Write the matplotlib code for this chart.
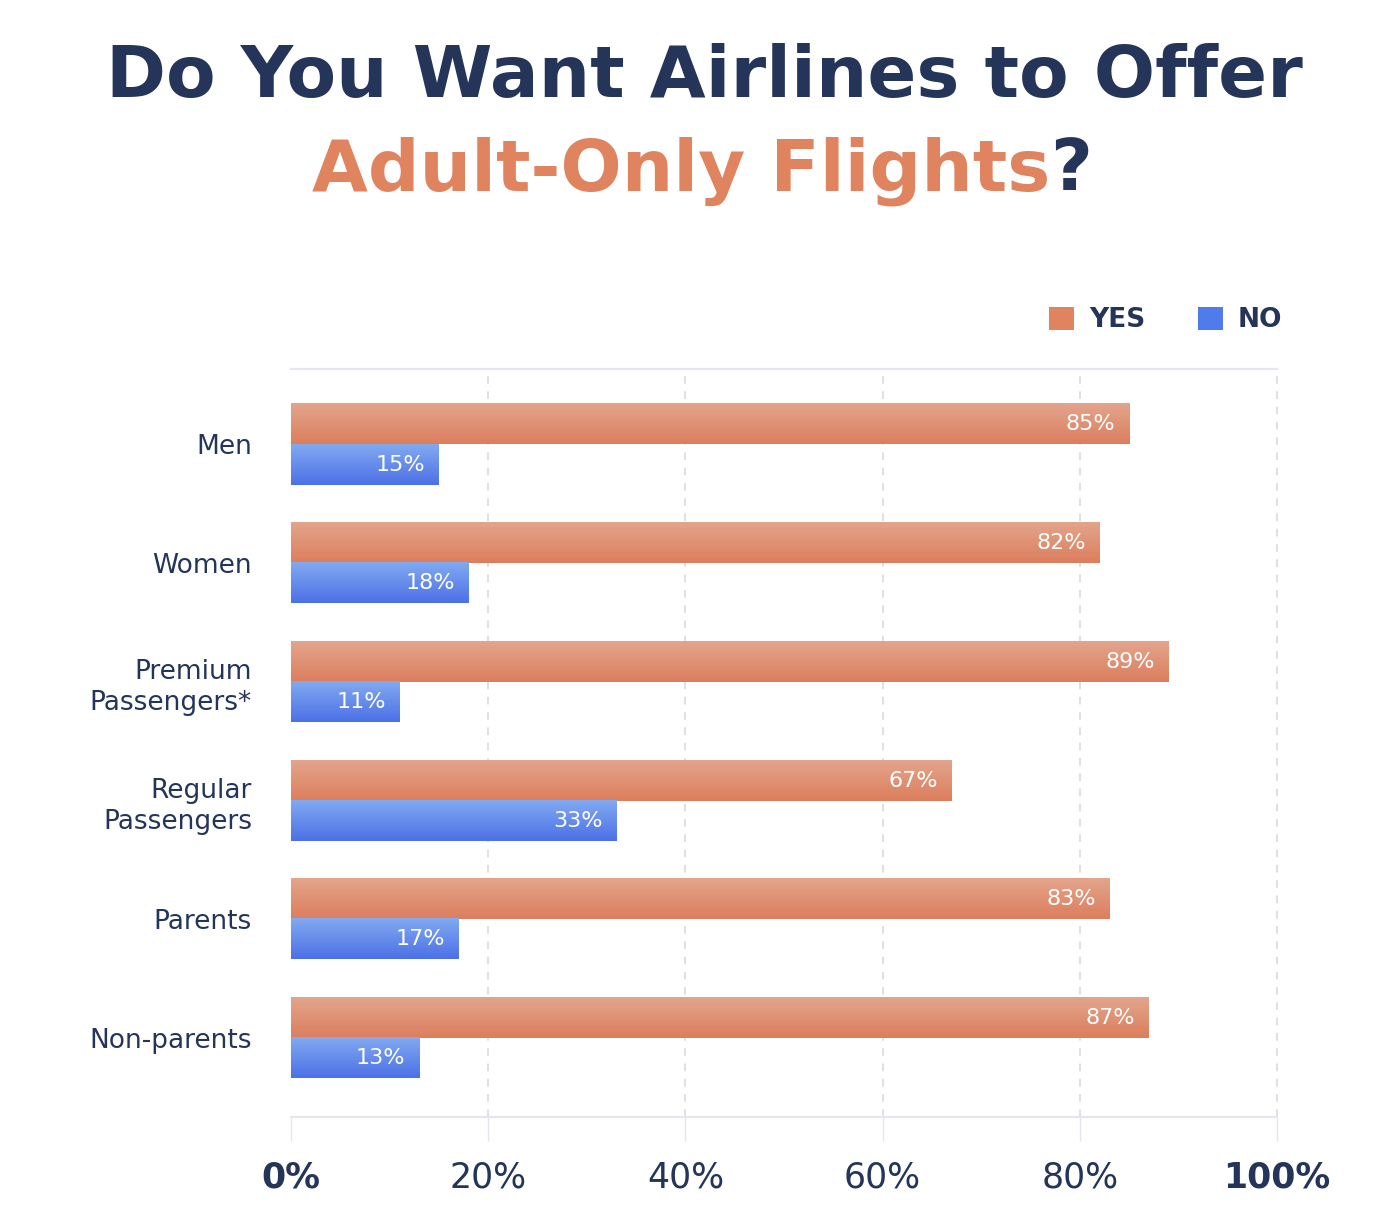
import matplotlib
matplotlib.use('Agg')
import matplotlib.pyplot as plt
import numpy as np
from matplotlib.colors import LinearSegmentedColormap
from matplotlib.patches import Patch

# ---- data ----
categories = ["Men", "Women", "Premium\nPassengers*", "Regular\nPassengers", "Parents", "Non-parents"]
yes_values = [85, 82, 89, 67, 83, 87]
no_values = [15, 18, 11, 33, 17, 13]
tick_values = [0, 20, 40, 60, 80, 100]
tick_labels = ["0%", "20%", "40%", "60%", "80%", "100%"]
series_labels = ["YES", "NO"]

NAVY = '#243559'
ORANGE = '#e0835f'
ORANGE_TOP = '#e3a58c'
ORANGE_BOT = '#dc7e5d'
BLUE_TOP = '#82aaf1'
BLUE_BOT = '#4c70e6'
BLUE = '#507bea'
GRID = '#d6d7dd'
LINE = '#e6e7ee'

plt.rcParams['font.family'] = ['DejaVu Sans']

W, H = 1400, 1227
fig = plt.figure(figsize=(W / 100, H / 100), dpi=100)
ax = fig.add_axes([291 / W, 1 - 1117 / H, (1277 - 291) / W, (1117 - 369) / H])

y = np.arange(len(categories))
h = 0.337
yes_bars = ax.barh(y - h / 2, yes_values, height=h, facecolor='none', edgecolor='none')
no_bars = ax.barh(y + h / 2, no_values, height=h, facecolor='none', edgecolor='none')

grad = np.linspace(0, 1, 256).reshape(-1, 1)
cm_o = LinearSegmentedColormap.from_list('o', [ORANGE_TOP, ORANGE_BOT])
cm_b = LinearSegmentedColormap.from_list('b', [BLUE_TOP, BLUE_BOT])
for bars, cm in ((yes_bars, cm_o), (no_bars, cm_b)):
    for b in bars:
        x0, y0, bw, bh = b.get_x(), b.get_y(), b.get_width(), b.get_height()
        ax.imshow(grad, cmap=cm, extent=(x0, x0 + bw, y0 + bh, y0), origin='upper',
                  aspect='auto', zorder=2, interpolation='bicubic')

for bars, vals in ((yes_bars, yes_values), (no_bars, no_values)):
    for b, v in zip(bars, vals):
        ax.text(v - 1.4, b.get_y() + b.get_height() / 2, f"{v}%", ha='right', va='center',
                color='white', fontsize=16, zorder=3)

ax.set_xlim(0, 100)
ax.set_ylim(5 + 79 / 118.7, -75.5 / 118.7)

ax.set_yticks(y, categories)
ax.tick_params(axis='y', length=0, pad=28, labelsize=19, labelcolor=NAVY)
for t in ax.get_yticklabels():
    t.set_linespacing(1.25)

ax.set_xticks(tick_values, tick_labels)
ax.tick_params(axis='x', length=17, width=1, color=LINE, pad=14, labelsize=25, labelcolor=NAVY)
xl = ax.get_xticklabels()
xl[0].set_fontweight('bold')
xl[-1].set_fontweight('bold')

ax.grid(axis='x', linestyle=(0, (5, 5)), color=GRID, linewidth=1.1, zorder=0)
ax.set_axisbelow(True)
gl = ax.get_xgridlines()
gl[0].set_visible(False)
for g in gl:
    g.set_clip_on(False)
for s in ('left', 'right'):
    ax.spines[s].set_visible(False)
for s in ('top', 'bottom'):
    ax.spines[s].set_color(LINE)
    ax.spines[s].set_linewidth(1.6)

handles = [Patch(facecolor=ORANGE, edgecolor='none'), Patch(facecolor=BLUE, edgecolor='none')]
leg = ax.legend(handles, series_labels, loc='center right', ncol=2,
                bbox_to_anchor=(1282 / W, 1 - 320 / H), bbox_transform=fig.transFigure,
                frameon=False, handlelength=0.95, handleheight=0.95, handletextpad=0.55,
                columnspacing=2.0, borderpad=0, borderaxespad=0,
                prop={'weight': 'bold', 'size': 19}, labelcolor=NAVY)

# ---- title ----
fig.text(0.503, 1 - 97 / H, "Do You Want Airlines to Offer", ha='center', va='baseline',
         fontsize=52, fontweight='bold', color=NAVY)
t1 = fig.text(0, 1 - 190 / H, "Adult-Only Flights", ha='left', va='baseline',
              fontsize=52, fontweight='bold', color=ORANGE)
t2 = fig.text(0, 1 - 190 / H, "?", ha='left', va='baseline',
              fontsize=52, fontweight='bold', color=NAVY)
r = fig.canvas.get_renderer()
w1 = t1.get_window_extent(r).width
w2 = t2.get_window_extent(r).width
start = 702 - (w1 + w2) / 2
t1.set_x(start / W)
t2.set_x((start + w1) / W)

fig.savefig('out.png', dpi=100, facecolor='white')
